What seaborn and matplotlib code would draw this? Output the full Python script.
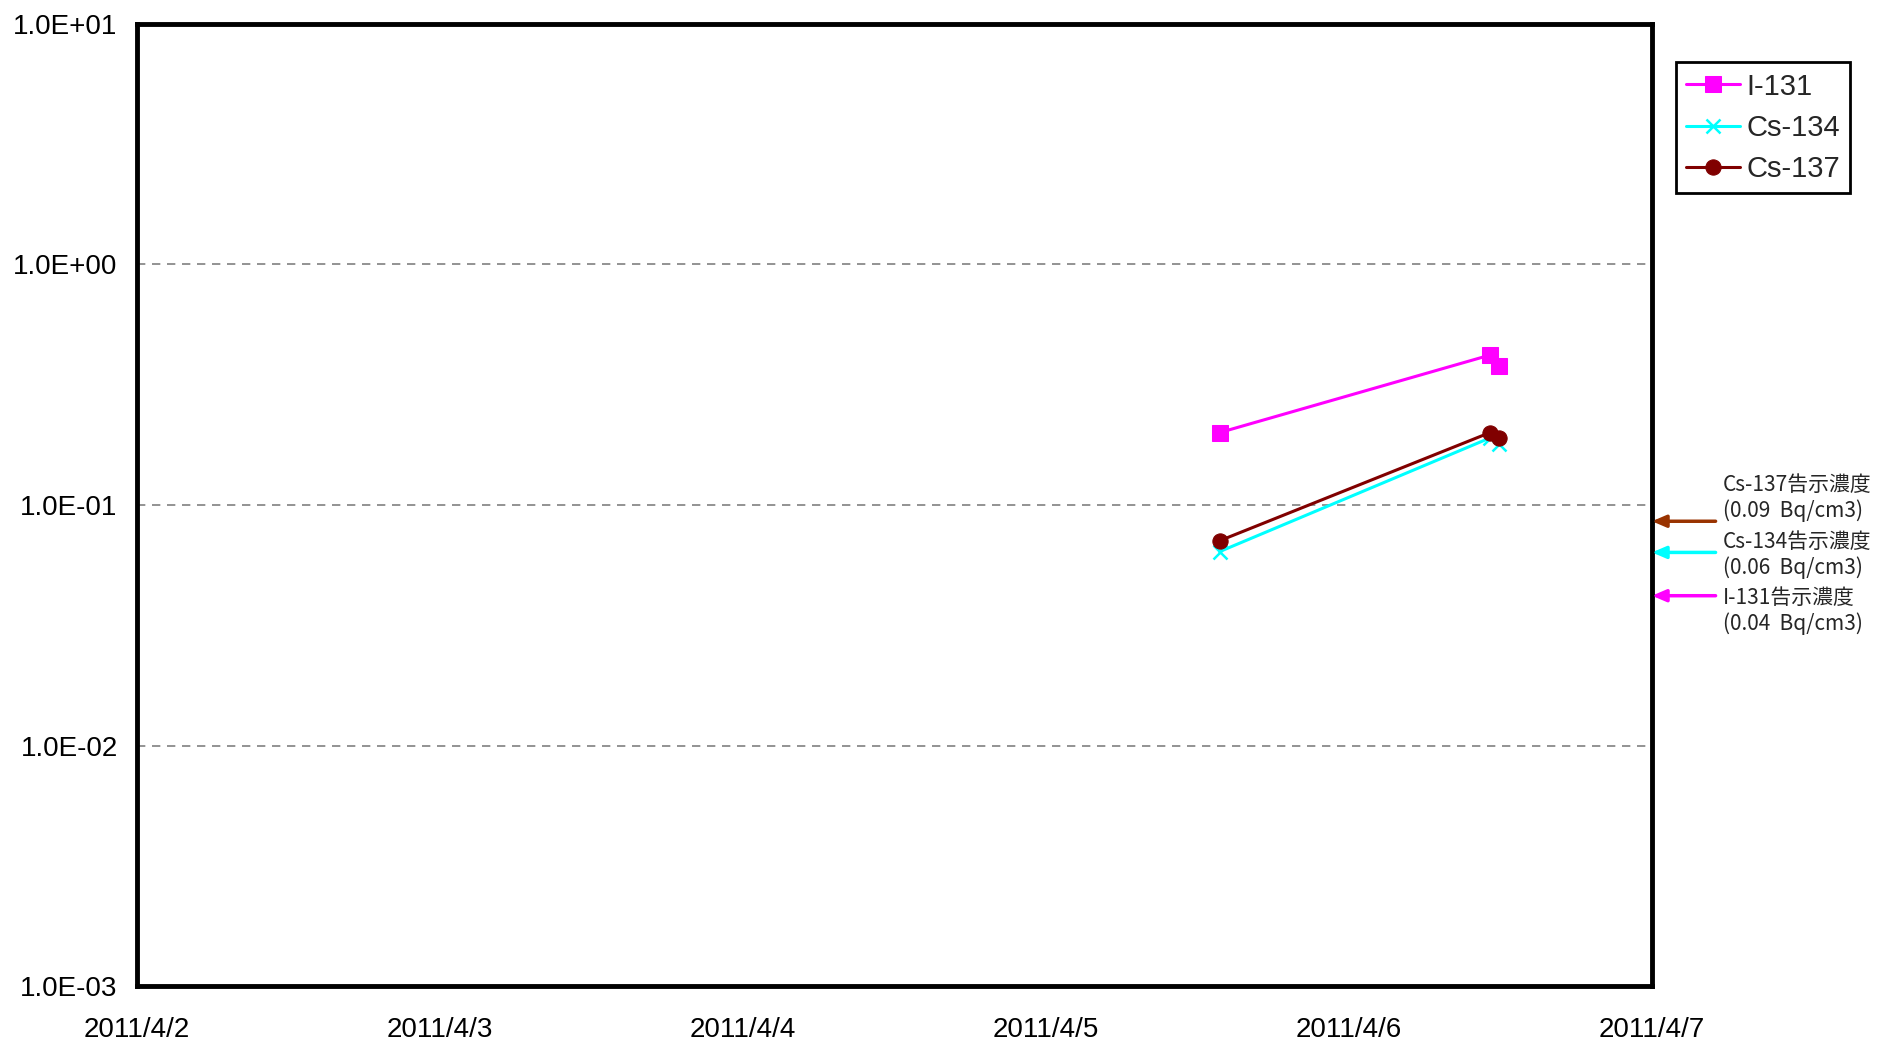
import matplotlib
matplotlib.use("Agg")
import matplotlib.pyplot as plt
import matplotlib.ticker as mticker
import seaborn as sns
import pandas as pd

# ---- data ----
times = ["2011-04-05 13:45", "2011-04-06 11:10", "2011-04-06 11:55"]
i131 = [0.20, 0.42, 0.38]
cs134 = [0.064, 0.19, 0.18]
cs137 = [0.071, 0.20, 0.19]
series_names = ["I-131", "Cs-134", "Cs-137"]
x_ticks = ["2011-04-02", "2011-04-03", "2011-04-04", "2011-04-05", "2011-04-06", "2011-04-07"]
x_tick_labels = ["2011/4/2", "2011/4/3", "2011/4/4", "2011/4/5", "2011/4/6", "2011/4/7"]
y_ticks = [1e-3, 1e-2, 1e-1, 1e0, 1e1]
y_tick_labels = ["1.0E-03", "1.0E-02", "1.0E-01", "1.0E+00", "1.0E+01"]
limit_labels = ["Cs-137告示濃度\n(0.09  Bq/cm3)",
                "Cs-134告示濃度\n(0.06  Bq/cm3)",
                "I-131告示濃度\n(0.04  Bq/cm3)"]

# ---- styling / positions (axes fraction) ----
colors = {"I-131": "#FF00FF", "Cs-134": "#00FFFF", "Cs-137": "#800000"}
marker_kw = {"I-131": dict(marker="s", markersize=11),
             "Cs-134": dict(marker="x", markersize=10, markeredgewidth=1.8),
             "Cs-137": dict(marker="o", markersize=11)}
limit_colors = ["#993300", "#00FFFF", "#FF00FF"]
arrow_y = [0.4831, 0.4507, 0.4057]
text_y = [0.507, 0.448, 0.3895]

rows = []
for name, vals in zip(series_names, [i131, cs134, cs137]):
    for t, v in zip(times, vals):
        rows.append({"time": pd.Timestamp(t), "value": v, "nuclide": name})
df = pd.DataFrame(rows)

sns.set_theme(style="white")
plt.rcParams["font.family"] = ["Liberation Sans", "Noto Sans CJK JP", "DejaVu Sans"]

fig = plt.figure(figsize=(18.83, 10.41), dpi=100)
ax = fig.add_axes([0.0728, 0.0528, 0.8045, 0.9242])

for name in series_names:
    sub = df[df["nuclide"] == name]
    sns.lineplot(data=sub, x="time", y="value", ax=ax, color=colors[name],
                 linewidth=2.2, label=name, markeredgecolor=colors[name],
                 estimator=None, sort=True, **marker_kw[name])

ax.set_yscale("log")
ax.set_ylim(1e-3, 1e1)
ax.set_xlim(pd.Timestamp(x_ticks[0]), pd.Timestamp(x_ticks[-1]))
ax.set_xticks([pd.Timestamp(t) for t in x_ticks])
ax.set_xticklabels(x_tick_labels)
ax.set_yticks(y_ticks)
ax.set_yticklabels(y_tick_labels)
ax.yaxis.set_minor_locator(mticker.NullLocator())
ax.set_xlabel("")
ax.set_ylabel("")

ax.tick_params(axis="x", direction="in", length=6, width=1, pad=22, labelsize=20, colors="black")
ax.tick_params(axis="y", direction="in", length=6, width=1, pad=14, labelsize=20, colors="black")

ax.grid(False)
for yv in y_ticks[1:-1]:
    ax.axhline(yv, color="#808080", linestyle=(0, (5, 4)), linewidth=1.2, zorder=0)

for s in ax.spines.values():
    s.set_color("black")
    s.set_linewidth(3.5)

leg = ax.legend(loc="upper left", bbox_to_anchor=(1.016, 0.960), fontsize=21,
                frameon=True, fancybox=False, framealpha=1, edgecolor="black",
                handlelength=1.85, borderpad=0.35, labelspacing=0.45, handletextpad=0.2,
                borderaxespad=0)
leg.get_frame().set_linewidth(2)

for ay, ty, lab, col in zip(arrow_y, text_y, limit_labels, limit_colors):
    ax.annotate("", xy=(1.0, ay), xycoords="axes fraction",
                xytext=(1.042, ay), textcoords="axes fraction",
                arrowprops=dict(arrowstyle="-|>,head_length=0.7,head_width=0.3",
                                color=col, lw=2.5, shrinkA=0, shrinkB=0),
                annotation_clip=False)
    ax.text(1.047, ty, lab, transform=ax.transAxes, fontsize=15,
            family=["Noto Sans CJK JP", "DejaVu Sans"], va="center", ha="left",
            linespacing=1.2)

fig.savefig("out.png", dpi=100, facecolor="white")
